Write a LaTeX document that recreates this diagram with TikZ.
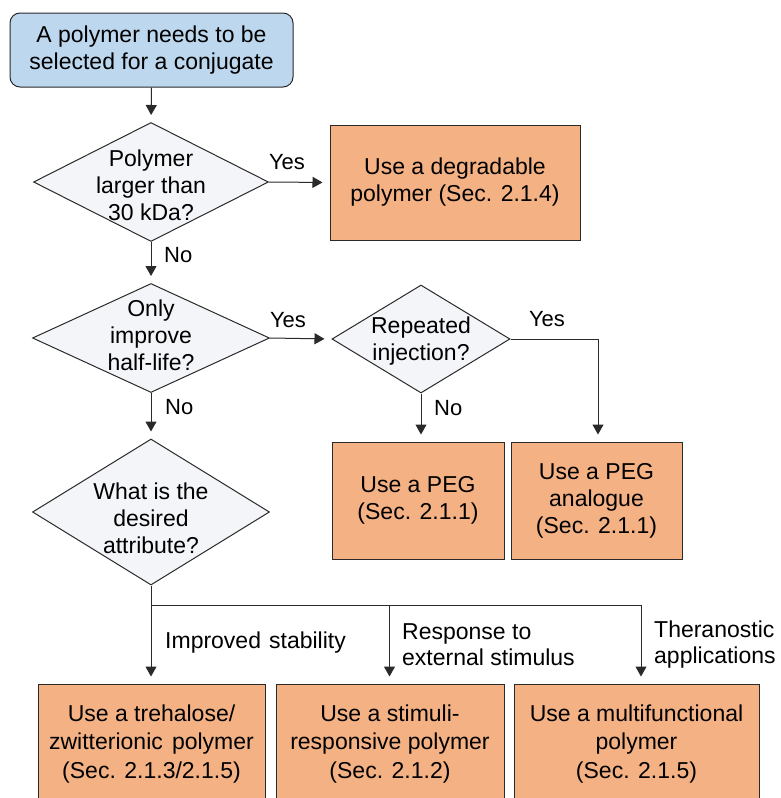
\documentclass[tikz,border=0pt]{standalone}
\usepackage{fontspec}
\setmainfont{Liberation Sans}
\usetikzlibrary{shapes.geometric,arrows.meta}
\definecolor{blueF}{HTML}{BDD7EE}
\definecolor{orangeF}{HTML}{F4B183}
\definecolor{diaF}{HTML}{F3F5F9}
\definecolor{lineC}{HTML}{2A2A2A}
\begin{document}
\begin{tikzpicture}[x=1pt,y=-1pt,
 every node/.style={font=\fontsize{23}{27}\selectfont, text=black},
 startbox/.style={draw=lineC, fill=blueF, rounded corners=10pt, line width=1pt, minimum width=283pt, minimum height=74pt, align=center, inner sep=0pt},
 resbox/.style={draw=lineC, fill=orangeF, line width=1pt, align=center, inner sep=0pt},
 botbox/.style={resbox, font=\fontsize{23}{28.5}\selectfont},
 dia/.style={draw=lineC, fill=diaF, diamond, line width=1pt, inner sep=0pt},
 dtext/.style={align=center, inner sep=0pt},
 lbl/.style={font=\fontsize{22}{26}\selectfont, align=left, inner sep=0pt},
 blbl/.style={font=\fontsize{23}{26}\selectfont, align=left, inner sep=0pt},
 arr/.style={-{Triangle[length=10pt,width=11pt]}, line width=1pt, draw=lineC, shorten >=7pt},
 ln/.style={line width=1pt, draw=lineC}
]
\useasboundingbox (0,0) rectangle (780,798);
\clip (0,0) rectangle (780,798);

% start
\node[startbox] (start) at (151.5,50) {A polymer needs to be\\selected for a conjugate};

% diamonds
\node[dia, minimum width=235pt, minimum height=119pt] (d1) at (151,182) {};
\node[dtext] (t1) at (151,185) {Polymer\\larger than\\30 kDa?};
\node[dia, minimum width=237pt, minimum height=109pt] (d2) at (151,338) {};
\node[dtext] (t2) at (151,335.5) {Only\\improve\\half-life?};
\node[dia, minimum width=178pt, minimum height=108pt] (d3) at (421,339) {};
\node[dtext] (t3) at (421,341) {Repeated\\injection?};
\node[dia, minimum width=237pt, minimum height=146pt] (d4) at (151,512) {};
\node[dtext] (t4) at (151,518) {What is the\\desired\\attribute?};

% result boxes
\node[resbox, minimum width=250pt, minimum height=115pt] (deg) at (455,182.5) {Use a degradable\\polymer (Sec. 2.1.4)};
\node[resbox, minimum width=172pt, minimum height=117pt] (peg1) at (418,500.5) {Use a PEG\\(Sec. 2.1.1)};
\node[resbox, minimum width=171pt, minimum height=117pt] (peg2) at (596.5,500.5) {Use a PEG\\analogue\\(Sec. 2.1.1)};
\node[botbox, minimum width=227pt, minimum height=120pt] (r1) at (151.5,744) {Use a trehalose/\\zwitterionic\hspace{0.4em}polymer\\(Sec. 2.1.3/2.1.5)};
\node[botbox, minimum width=228pt, minimum height=120pt] (r2) at (390,744) {Use a stimuli-\\responsive polymer\\(Sec. 2.1.2)};
\node[botbox, minimum width=245pt, minimum height=120pt] (r3) at (636.5,744) {Use a multifunctional\\polymer\\(Sec. 2.1.5)};

% connectors
\draw[arr] (start.south) -- (d1.north);
\draw[arr] (d1.east) -- (deg.west);
\draw[arr] (d1.south) -- (d2.north);
\draw[arr] (d2.east) -- (d3.west);
\coordinate (c3) at (598,339);
\draw[arr] (d3.east) -- (c3) -- (c3 |- peg2.north);
\draw[arr] (d3.south) -- (d3.south |- peg1.north);
\draw[arr] (d2.south) -- (d4.north);

\coordinate (j1) at (151,605);
\coordinate (j2) at (389.5,605);
\coordinate (j3) at (641,605);
\draw[ln] (d4.south) -- (j1) -- (j3);
\draw[arr] (j1) -- (j1 |- r1.north);
\draw[arr] (j2) -- (j2 |- r2.north);
\draw[arr] (j3) -- (j3 |- r3.north);

% labels
\node[lbl] (y1) at (287,162) {Yes};
\node[lbl, anchor=west] (n1) at (164,255) {No};
\node[lbl] (y2) at (288,320) {Yes};
\node[lbl, anchor=west] (n2) at (165,407) {No};
\node[lbl] (y3) at (547,319) {Yes};
\node[lbl, anchor=west] (n3) at (434,408) {No};
\node[blbl, anchor=west] (l1) at (165,643) {Improved\hspace{0.35em}stability};
\node[blbl, anchor=west] (l2) at (402,645) {Response to\\external stimulus};
\node[blbl, anchor=west] (l3) at (654,645) {Theranostic\\applications};
\end{tikzpicture}
\end{document}
